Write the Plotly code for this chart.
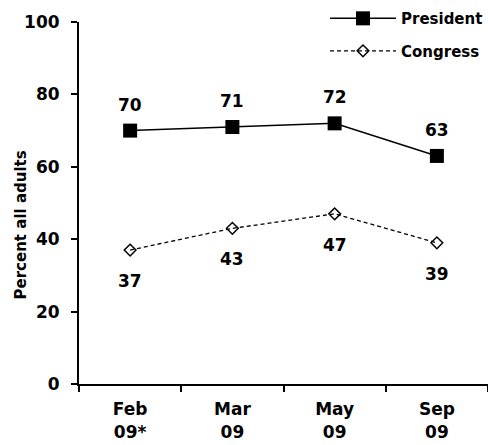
import plotly.graph_objects as go

# Survey waves and approval shares (percent of all adults)
periods = ["Feb<br>09*", "Mar<br>09", "May<br>09", "Sep<br>09"]
president = [70, 71, 72, 63]
congress = [37, 43, 47, 39]
y_ticks = [0, 20, 40, 60, 80, 100]

FONT = "DejaVu Sans"
BLACK = "#000000"

fig = go.Figure()

fig.add_trace(go.Scatter(
    x=periods, y=president, name="President", mode="lines+markers",
    line=dict(color=BLACK, width=1.5),
    marker=dict(symbol="square", size=14, color=BLACK),
    legendgroup="p",
))
fig.add_trace(go.Scatter(
    x=periods, y=congress, name="Congress", mode="lines+markers",
    line=dict(color=BLACK, width=1.3, dash="4px,3px"),
    marker=dict(symbol="diamond-open", size=9, color=BLACK, line=dict(width=1.5, color=BLACK)),
    legendgroup="c",
))

# Value labels: above the President points, below the Congress points
for x, v in zip(periods, president):
    fig.add_annotation(x=x, y=v, text=str(v), showarrow=False, yshift=26,
                       font=dict(family=FONT, size=17, color=BLACK, weight="bold"))
for x, v in zip(periods, congress):
    fig.add_annotation(x=x, y=v, text=str(v), showarrow=False, yshift=-31,
                       font=dict(family=FONT, size=17, color=BLACK, weight="bold"))

# Vertical axis title, placed left of the tick labels
fig.add_annotation(
    xref="paper", yref="paper", x=0, y=0.438, xshift=-58,
    text="Percent all adults", textangle=-90, showarrow=False,
    xanchor="center", yanchor="middle",
    font=dict(family=FONT, size=15, color=BLACK, weight="bold"),
)

fig.update_layout(
    width=488, height=445,
    margin=dict(l=79, r=0, t=22, b=61),
    paper_bgcolor="white", plot_bgcolor="white",
    font=dict(family=FONT, color=BLACK),
    legend=dict(
        x=1, y=1.055, xanchor="right", yanchor="top",
        font=dict(family=FONT, size=15, color=BLACK, weight="bold"),
        itemwidth=66, tracegroupgap=10, traceorder="grouped",
        bgcolor="rgba(0,0,0,0)",
    ),
    xaxis=dict(
        type="category", range=[-0.5, 3.5], tickson="boundaries",
        showline=True, linecolor=BLACK, linewidth=2,
        ticks="outside", ticklen=6, tickcolor=BLACK, tickwidth=1.5,
        showgrid=False, zeroline=False,
        tickfont=dict(family=FONT, size=17, color=BLACK, weight="bold"),
        ticklabelstandoff=9,
    ),
    yaxis=dict(
        range=[0, 100], tickvals=y_ticks,
        showline=True, linecolor=BLACK, linewidth=2,
        ticks="outside", ticklen=6, tickcolor=BLACK, tickwidth=1.5,
        showgrid=False, zeroline=False,
        tickfont=dict(family=FONT, size=17, color=BLACK, weight="bold"),
        ticklabelstandoff=8,
    ),
)

fig.write_html("out.html")
